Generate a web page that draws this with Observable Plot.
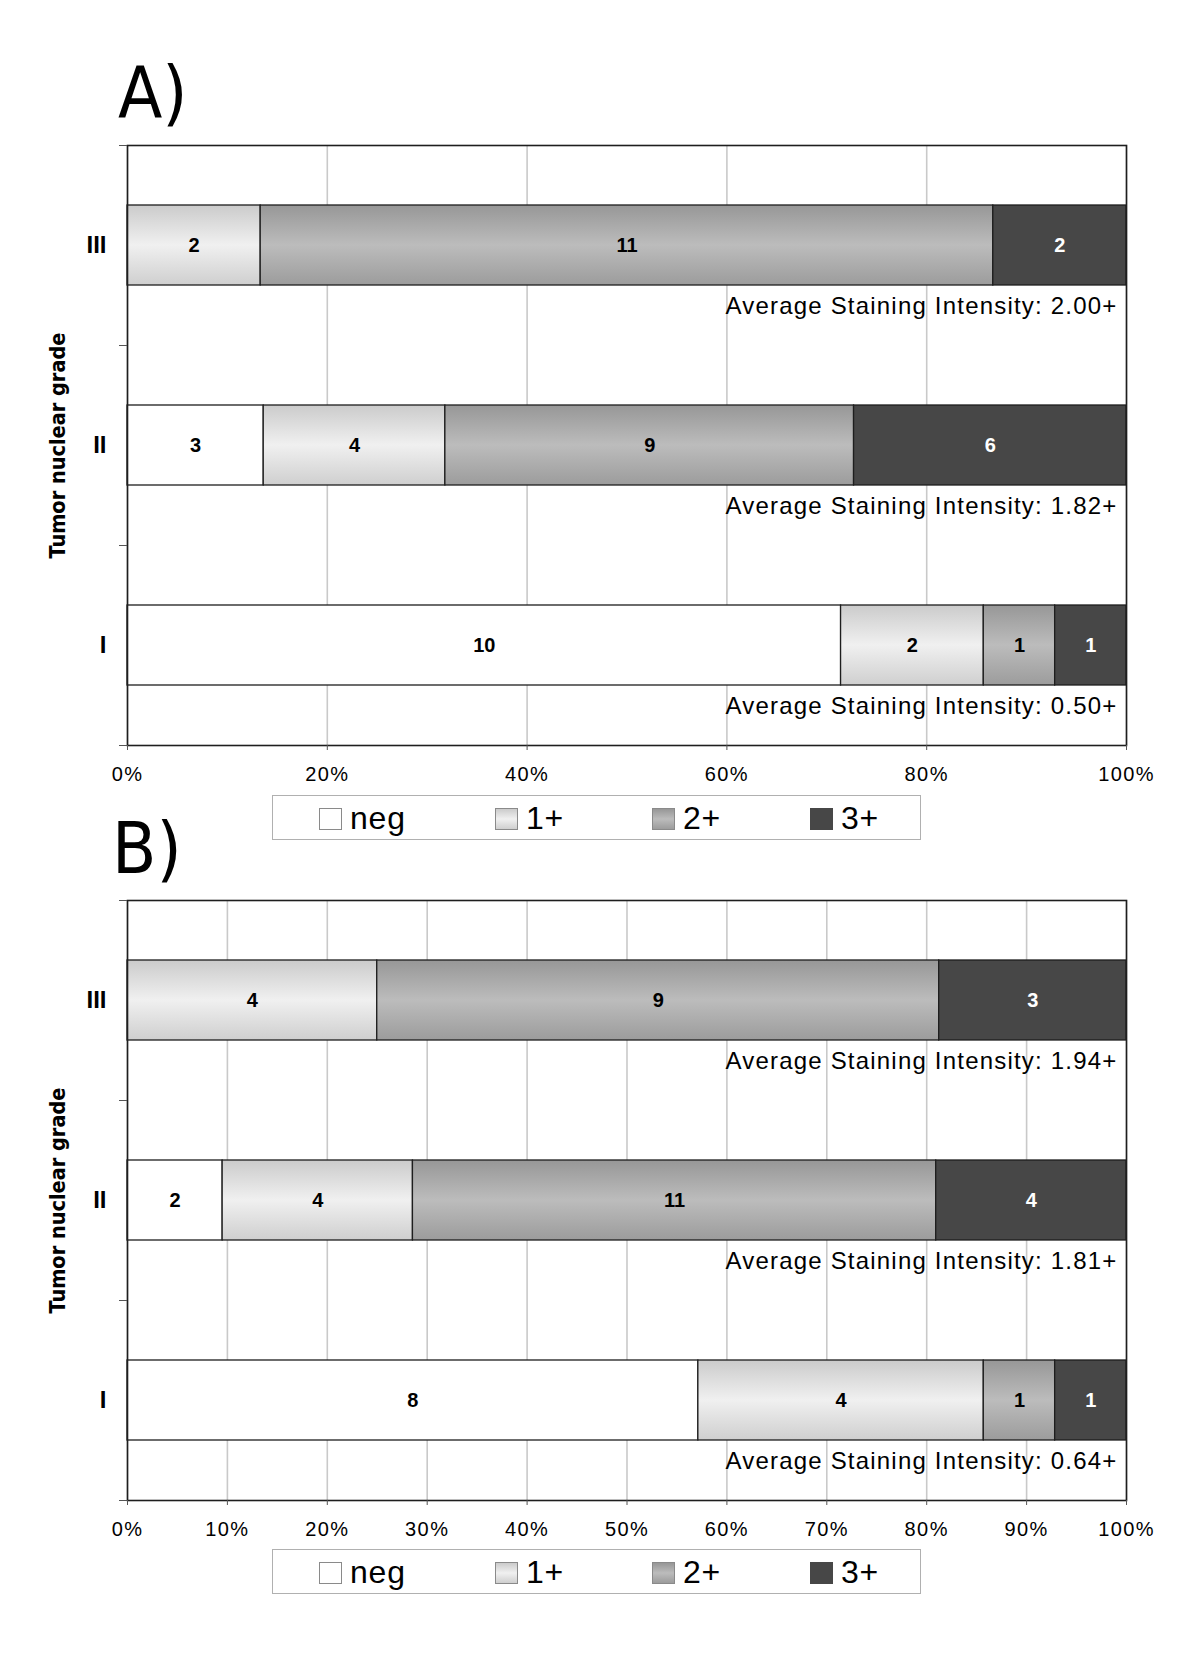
<!DOCTYPE html>
<html>
<head>
<meta charset="utf-8">
<script src="https://cdn.jsdelivr.net/npm/d3@7"></script>
<script src="https://cdn.jsdelivr.net/npm/@observablehq/plot@0.6"></script>
<style>
  body { margin: 0; background: #fff; font-family: "Liberation Sans", Arial, sans-serif; }
  #page { position: relative; width: 1200px; height: 1662px; overflow: hidden; }
  .title { position: absolute; font-family: "Liberation Sans Narrow", "DejaVu Sans Condensed", "Liberation Sans", sans-serif; font-size: 72px; line-height: 72px; color: #000; }
  .chart { position: absolute; left: 0; }
  .legend { position: absolute; left: 272px; width: 647px; height: 43px; border: 1px solid #b0b0b0; background: #fff; }
  .sw { position: absolute; top: 12px; width: 23px; height: 22px; box-sizing: border-box; border: 1px solid #8a8a8a; }
  .lb { position: absolute; top: 1px; line-height: 43px; font-size: 32px; letter-spacing: 0.8px; color: #000; }
  g[aria-label="x-axis tick label"] text { letter-spacing: 1.4px; }
</style>
</head>
<body>
<div id="page"></div>
<script>
// ---------------- data ----------------
const grades = ["III", "II", "I"];
const levels = ["neg", "1+", "2+", "3+"];

// Panel A counts, in grade order III, II, I
const aNeg = [0, 3, 10];
const aOne = [2, 4, 2];
const aTwo = [11, 9, 1];
const aThree = [2, 6, 1];
const aAverage = ["2.00+", "1.82+", "0.50+"];

// Panel B counts, in grade order III, II, I
const bNeg = [0, 2, 8];
const bOne = [4, 4, 4];
const bTwo = [9, 11, 1];
const bThree = [3, 4, 1];
const bAverage = ["1.94+", "1.81+", "0.64+"];

const ticksA = [0, 20, 40, 60, 80, 100];
const ticksB = [0, 10, 20, 30, 40, 50, 60, 70, 80, 90, 100];

const panelTitles = ["A)", "B)"];
const yTitle = "Tumor nuclear grade";
const avgPrefix = "Average Staining Intensity: ";

// ---------------- helpers ----------------
function makeRows(neg, one, two, three) {
  const out = [];
  const series = [neg, one, two, three];
  grades.forEach((g, i) => {
    series.forEach((arr, j) => {
      if (arr[i] > 0) out.push({grade: g, level: levels[j], count: arr[i]});
    });
  });
  return out;
}

const defsMark = (prefix) => () => {
  const d = d3.create("svg:defs");
  const grad = (id, stops) => {
    const g = d.append("linearGradient").attr("id", id)
      .attr("x1", 0).attr("y1", 0).attr("x2", 0).attr("y2", 1);
    stops.forEach(([o, c]) => g.append("stop").attr("offset", o).attr("stop-color", c));
  };
  grad(prefix + "-g1", [[0, "#cbcbcb"], [0.5, "#f0f0f0"], [1, "#cfcfcf"]]);
  grad(prefix + "-g2", [[0, "#979797"], [0.5, "#bcbcbc"], [1, "#9c9c9c"]]);
  return d.node();
};

function chart(prefix, data, averages, ticks) {
  const fills = ["#ffffff", `url(#${prefix}-g1)`, `url(#${prefix}-g2)`, "#474747"];
  const avgRows = grades.map((g, i) => ({grade: g, label: avgPrefix + averages[i]}));
  const st = {offset: "normalize", x: "count", y: "grade", z: "level"};
  const tickVals = ticks.map(t => t / 100);
  const svg = Plot.plot({
    width: 1200,
    height: 665,
    marginTop: 20,
    marginBottom: 45,
    marginLeft: 127,
    marginRight: 74,
    style: {fontFamily: "'Liberation Sans', Arial, sans-serif", background: "transparent", color: "#000"},
    x: {domain: [0, 1], label: null},
    y: {domain: grades, paddingInner: 0.6, paddingOuter: 0.3, label: null},
    color: {domain: levels, range: fills},
    marks: [
      defsMark(prefix),
      Plot.ruleX(tickVals, {stroke: "#c9c9c9", strokeWidth: 1.6}),
      Plot.barX(data, Plot.stackX({...st, fill: "level", stroke: "#1e1e1e", strokeWidth: 1.3})),
      Plot.text(data, Plot.stackX({...st, text: d => d.level === "3+" ? null : d.count,
        fill: "#000", fontWeight: "bold", fontSize: 20})),
      Plot.text(data, Plot.stackX({...st, text: d => d.level === "3+" ? d.count : null,
        fill: "#fff", fontWeight: "bold", fontSize: 20})),
      Plot.text(avgRows, {y: "grade", text: "label", frameAnchor: "right", textAnchor: "end",
        dx: -9, dy: 61, fontSize: 24, fill: "#000"}),
      Plot.frame({stroke: "#1e1e1e", strokeWidth: 1.6}),
      Plot.ruleY(grades, {x1: 0, x2: 0, insetLeft: -8, dy: -100, stroke: "#555"}),
      Plot.ruleY([grades[grades.length - 1]], {x1: 0, x2: 0, insetLeft: -8, dy: 100, stroke: "#555"}),
      Plot.axisX(tickVals, {tickFormat: d3.format(".0%"), tickSize: 5, tickPadding: 16,
        fontSize: 20, stroke: "#555", label: null}),
      Plot.axisY({tickSize: 0, tickPadding: 21, fontSize: 24, fontWeight: "bold", label: null}),
      Plot.text([yTitle], {frameAnchor: "left", textAnchor: "middle", rotate: -90, dx: -69,
        fontSize: 21.5, fontWeight: "bold", fill: "#000",
        fontFamily: "'Liberation Sans Narrow', 'DejaVu Sans Condensed', 'Liberation Sans', sans-serif"})
    ]
  });
  d3.select(svg).selectAll("text")
    .filter(function() { return this.textContent.startsWith("Average"); })
    .attr("letter-spacing", "1.2px");
  return svg;
}

function legend(top) {
  const box = document.createElement("div");
  box.className = "legend";
  box.style.top = top + "px";
  const swBg = [
    "#ffffff",
    "linear-gradient(to bottom, #cbcbcb, #f0f0f0 50%, #cfcfcf)",
    "linear-gradient(to bottom, #979797, #bcbcbc 50%, #9c9c9c)",
    "#474747"
  ];
  const swBorder = ["#8a8a8a", "#8a8a8a", "#8a8a8a", "#474747"];
  const swLeft = [46, 222, 379, 537];
  levels.forEach((lv, i) => {
    const sw = document.createElement("div");
    sw.className = "sw";
    sw.style.left = swLeft[i] + "px";
    sw.style.background = swBg[i];
    sw.style.borderColor = swBorder[i];
    box.appendChild(sw);
    const lb = document.createElement("div");
    lb.className = "lb";
    lb.style.left = (swLeft[i] + 31) + "px";
    lb.textContent = lv;
    box.appendChild(lb);
  });
  return box;
}

function title(text, left, top) {
  const t = document.createElement("div");
  t.className = "title";
  t.style.left = left + "px";
  t.style.top = top + "px";
  t.textContent = text;
  return t;
}

// ---------------- layout ----------------
const page = document.getElementById("page");
page.appendChild(title(panelTitles[0], 118, 56));
const svgA = chart("pa", makeRows(aNeg, aOne, aTwo, aThree), aAverage, ticksA);
svgA.classList.add("chart");
svgA.style.top = "125px";
page.appendChild(svgA);
page.appendChild(legend(795));

page.appendChild(title(panelTitles[1], 112, 812));
const svgB = chart("pb", makeRows(bNeg, bOne, bTwo, bThree), bAverage, ticksB);
svgB.classList.add("chart");
svgB.style.top = "880px";
page.appendChild(svgB);
page.appendChild(legend(1549));
</script>
</body>
</html>
